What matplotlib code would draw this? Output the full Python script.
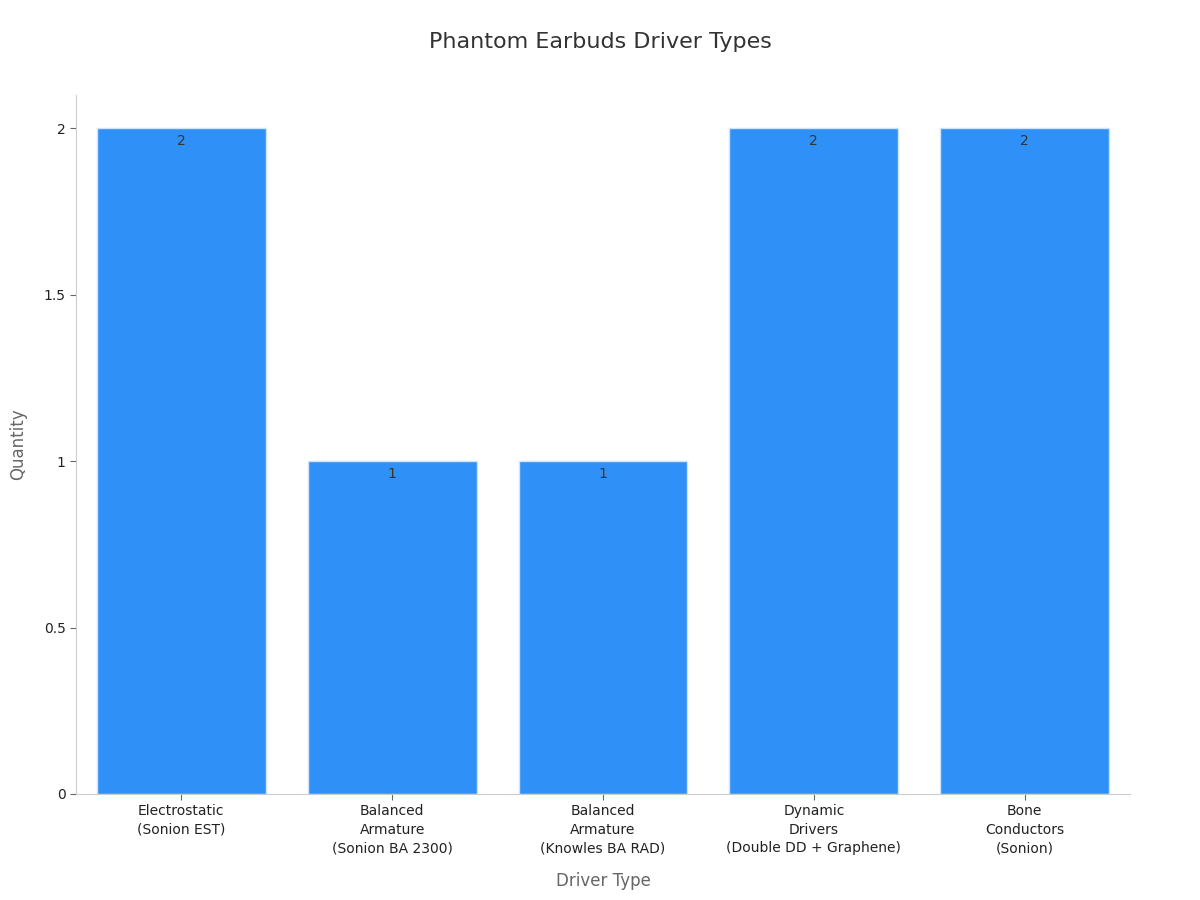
import matplotlib
matplotlib.use("Agg")
import matplotlib.pyplot as plt

categories = ["Electrostatic\n(Sonion EST)", "Balanced\nArmature\n(Sonion BA 2300)",
              "Balanced\nArmature\n(Knowles BA RAD)", "Dynamic\nDrivers\n(Double DD + Graphene)",
              "Bone\nConductors\n(Sonion)"]
quantities = [2, 1, 1, 2, 2]
yticks = [0, 0.5, 1, 1.5, 2]
ytick_labels = ["0", "0.5", "1", "1.5", "2"]

fig = plt.figure(figsize=(12, 9), dpi=100)
ax = fig.add_axes([0.0633, 0.1178, 0.8784, 0.7766])
x = list(range(len(categories)))
bars = ax.bar(x, quantities, width=0.8, color="#2F91F7", edgecolor="#cfe3fb", linewidth=1)
for xi, q in zip(x, quantities):
    ax.annotate(str(q), (xi, q), xytext=(0, -4), textcoords="offset points",
                ha="center", va="top", fontsize=10, color="#333333")
ax.set_xlim(-0.5, 4.5)
ax.set_ylim(0, 2.1)
ax.set_xticks(x)
ax.set_xticklabels(categories, fontsize=10, color="#222222", linespacing=1.4)
ax.set_yticks(yticks)
ax.set_yticklabels(ytick_labels, fontsize=10, color="#222222")
for s in ["top", "right"]:
    ax.spines[s].set_visible(False)
for s in ["left", "bottom"]:
    ax.spines[s].set_color("#cccccc")
ax.tick_params(axis="both", colors="#666666", length=4)
for lbl in ax.get_xticklabels() + ax.get_yticklabels():
    lbl.set_color("#222222")
ax.set_xlabel("Driver Type", fontsize=12, color="#666666", labelpad=12)
ax.set_ylabel("Quantity", fontsize=12, color="#666666", labelpad=12)
fig.suptitle("Phantom Earbuds Driver Types", fontsize=16, color="#333333", y=0.965)
fig.savefig("out.png", dpi=100)
